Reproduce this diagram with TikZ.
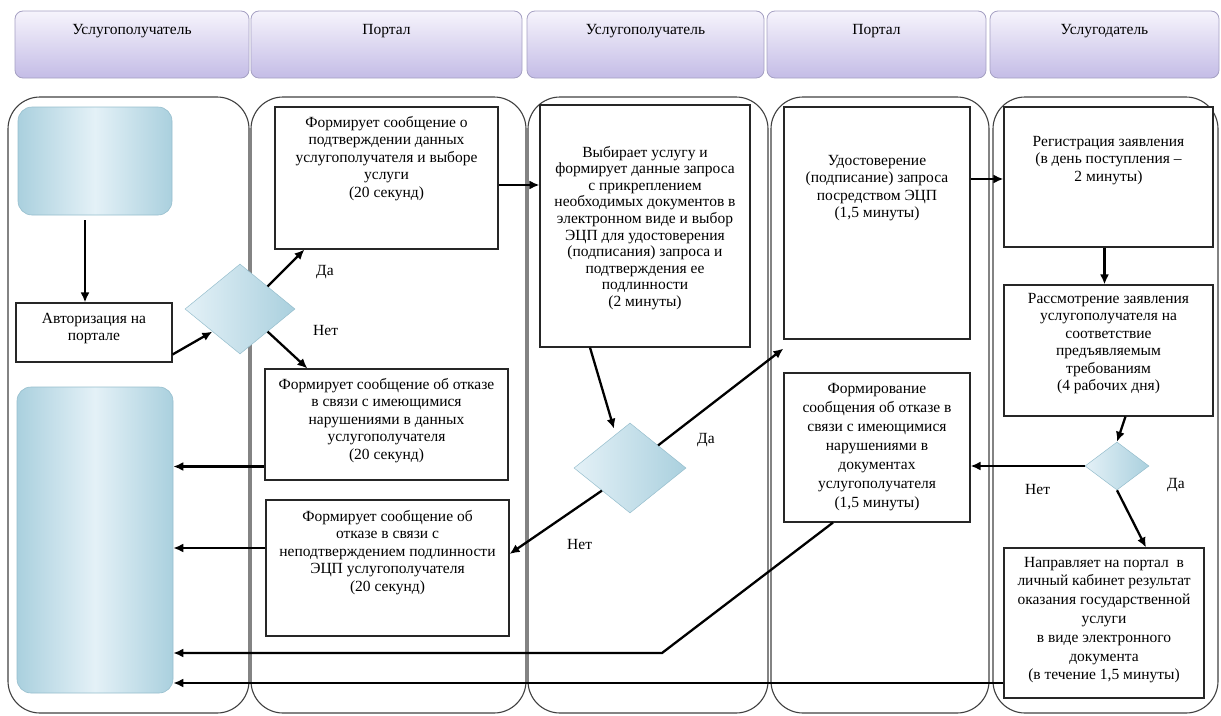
\documentclass[tikz,border=0pt]{standalone}
\usepackage{fontspec}
\setmainfont{Liberation Serif}
\usetikzlibrary{positioning,shapes.geometric,arrows.meta,calc}
\definecolor{hdrtop}{RGB}{246,244,252}
\definecolor{hdrbot}{RGB}{196,188,230}
\definecolor{hdrline}{RGB}{165,160,195}
\definecolor{tileL}{RGB}{228,241,247}
\definecolor{tileD}{RGB}{170,208,222}
\definecolor{tileline}{RGB}{150,190,205}
\newcommand{\toptext}[4]{\parbox[c][#2][t]{#1}{\centering\vspace*{#3}#4}}

\begin{document}
\begin{tikzpicture}[x=1pt,y=-1pt,
    lane/.style={draw=black!75,line width=1.1pt,rounded corners=32pt},
    hdr/.style={draw=hdrline,line width=0.8pt,rounded corners=8pt,top color=hdrtop,bottom color=hdrbot,inner sep=0pt,font=\fontsize{15.5}{18}\selectfont},
    tile/.style={draw=tileline,line width=0.6pt,rounded corners=14pt,left color=tileD,right color=tileD,middle color=tileL,inner sep=0pt},
    stepbox/.style={draw=black!85,line width=1.1pt,fill=white,inner sep=0pt,font=\fontsize{15.5}{17.5}\selectfont},
    choice/.style={diamond,draw=tileline,line width=0.5pt,left color=tileL,right color=tileD,inner sep=0pt},
    flow/.style={line width=2.3pt,-{Latex[length=10pt,width=9pt]}},
    lbl/.style={font=\fontsize{15.5}{17.5}\selectfont,inner sep=0pt}]
    \useasboundingbox (0,0) rectangle (1221,715);

    % swimlanes
    \draw[lane] (8,97) rectangle (249,713);
    \draw[lane] (251,97) rectangle (526,713);
    \draw[lane] (528,97) rectangle (768,713);
    \draw[lane] (771,97) rectangle (989,713);
    \draw[lane] (993,97) rectangle (1218,713);

    \node[hdr,minimum width=234pt,minimum height=67pt] (h1) at (132,44.5) {\toptext{230pt}{65pt}{12pt}{Услугополучатель}};
    \node[hdr,minimum width=271pt,minimum height=67pt] (h2) at (386.5,44.5) {\toptext{265pt}{65pt}{12pt}{Портал}};
    \node[hdr,minimum width=237pt,minimum height=67pt] (h3) at (645.5,44.5) {\toptext{230pt}{65pt}{12pt}{Услугополучатель}};
    \node[hdr,minimum width=219pt,minimum height=67pt] (h4) at (876.5,44.5) {\toptext{215pt}{65pt}{12pt}{Портал}};
    \node[hdr,minimum width=229pt,minimum height=67pt] (h5) at (1104.5,44.5) {\toptext{225pt}{65pt}{12pt}{Услугодатель}};

    % lane 1
    \node[tile,minimum width=154pt,minimum height=108pt] (start) at (95,161) {};
    \node[stepbox,minimum width=156pt,minimum height=59pt] (auth) at (94,332.5) {\toptext{154pt}{57pt}{9pt}{Авторизация на\\портале}};
    \node[choice,minimum width=110pt,minimum height=90pt] (d1) at (240,309) {};
    \node[tile,minimum width=156pt,minimum height=306pt] (fin) at (95,540) {};

    % lane 2
    \node[stepbox,minimum width=223pt,minimum height=142pt] (confirm) at (386.5,178) {\toptext{221pt}{140pt}{8pt}{Формирует сообщение о\\подтверждении данных\\услугополучателя и выборе\\услуги\\(20 секунд)}};
    \node[stepbox,minimum width=243pt,minimum height=111pt] (refuse1) at (386.5,424.5) {\toptext{241pt}{109pt}{8pt}{Формирует сообщение об отказе\\в связи с имеющимися\\нарушениями в данных\\услугополучателя\\(20 секунд)}};
    \node[stepbox,minimum width=243pt,minimum height=136pt] (refuse2) at (387.5,568) {\toptext{241pt}{134pt}{9pt}{Формирует сообщение об\\отказе в связи с\\неподтверждением подлинности\\ЭЦП услугополучателя\\(20 секунд)}};

    % lane 3
    \node[stepbox,minimum width=210pt,minimum height=242pt,font=\fontsize{15.5}{16.6}\selectfont] (choose) at (645,226) {\toptext{208pt}{240pt}{40pt}{Выбирает услугу и\\формирует данные запроса\\с прикреплением\\необходимых документов в\\электронном виде и выбор\\ЭЦП для удостоверения\\(подписания) запроса и\\подтверждения ее\\подлинности\\(2 минуты)}};
    \node[choice,minimum width=112pt,minimum height=90pt] (d2) at (630,468) {};

    % lane 4
    \node[stepbox,minimum width=186pt,minimum height=232pt] (sign) at (877,223) {\toptext{184pt}{230pt}{47pt}{Удостоверение\\(подписание) запроса\\посредством ЭЦП\\(1,5 минуты)}};
    \node[stepbox,minimum width=186pt,minimum height=149pt,font=\fontsize{15.5}{19}\selectfont] (refuse3) at (877,447.5) {\toptext{184pt}{147pt}{9pt}{Формирование\\сообщения об отказе в\\связи с имеющимися\\нарушениями в\\документах\\услугополучателя\\(1,5 минуты)}};

    % lane 5
    \node[stepbox,minimum width=209pt,minimum height=140pt] (reg) at (1108.5,177) {\toptext{207pt}{138pt}{28pt}{Регистрация заявления\\(в день поступления –\\2 минуты)}};
    \node[stepbox,minimum width=209pt,minimum height=131pt] (review) at (1108.5,350.5) {\toptext{207pt}{129pt}{7pt}{Рассмотрение заявления\\услугополучателя на\\соответствие\\предъявляемым\\требованиям\\(4 рабочих дня)}};
    \node[choice,minimum width=64pt,minimum height=48pt] (d3) at (1117,466) {};
    \node[stepbox,minimum width=200pt,minimum height=150pt,font=\fontsize{15.5}{18.8}\selectfont] (result) at (1104,623) {\toptext{198pt}{148pt}{8pt}{Направляет на портал~ в\\личный кабинет результат\\оказания государственной\\услуги\\в виде электронного\\документа\\(в течение 1,5 минуты)}};

    \node[lbl,anchor=west] (yes1) at (316,272) {Да};
    \node[lbl,anchor=west] (no1) at (313,330) {Нет};
    \node[lbl,anchor=west] (yes2) at (697,440) {Да};
    \node[lbl,anchor=west] (no2) at (567,544) {Нет};
    \node[lbl,anchor=west] (no3) at (1025,489) {Нет};
    \node[lbl,anchor=west] (yes3) at (1167,485) {Да};

    \draw[flow] ([shift={(-10pt,-5pt)}]start.south) -- ([xshift=-9pt]auth.north);
    \draw[flow] ([yshift=-22pt]auth.east) -- (d1.south west);
    \draw[flow] (d1.north east) -- ([xshift=30pt]confirm.south west);
    \draw[flow] (d1.south east) -- ([xshift=43pt]refuse1.north west);
    \draw[flow] ([yshift=-7pt]confirm.east) -- ([yshift=-7pt]confirm.east -| choose.west);
    \draw[flow] ([xshift=-55pt]choose.south) -- ([shift={(-16pt,-6pt)}]d2.north);
    \draw[flow] (d2.north east) -- ([yshift=-9pt]sign.south west);
    \draw[flow] (d2.south west) -- ([yshift=14pt]refuse2.east);
    \draw[flow] ([yshift=44pt]sign.east) -- ([yshift=44pt]sign.east -| reg.west);
    \draw[flow] ([xshift=-4pt]reg.south) -- ([xshift=-4pt]review.north);
    \draw[flow] ([xshift=17pt]review.south) -- (d3.north);
    \draw[flow] (d3.west) -- (d3.west -| refuse3.east);
    \draw[flow] (d3.south) -- ([xshift=42pt]result.north);
    \draw[flow] ([yshift=-42pt]refuse1.west) -- ([yshift=-42pt]refuse1.west -| fin.east);
    \draw[flow] ([yshift=20pt]refuse2.west) -- ([yshift=20pt]refuse2.west -| fin.east);
    \coordinate (bend) at (662,653);
    \draw[flow] ([xshift=-44pt]refuse3.south) -- (bend) -- (bend -| fin.east);
    \draw[flow] ([yshift=-60pt]result.west) -- ([yshift=-60pt]result.west -| fin.east);
\end{tikzpicture}
\end{document}
